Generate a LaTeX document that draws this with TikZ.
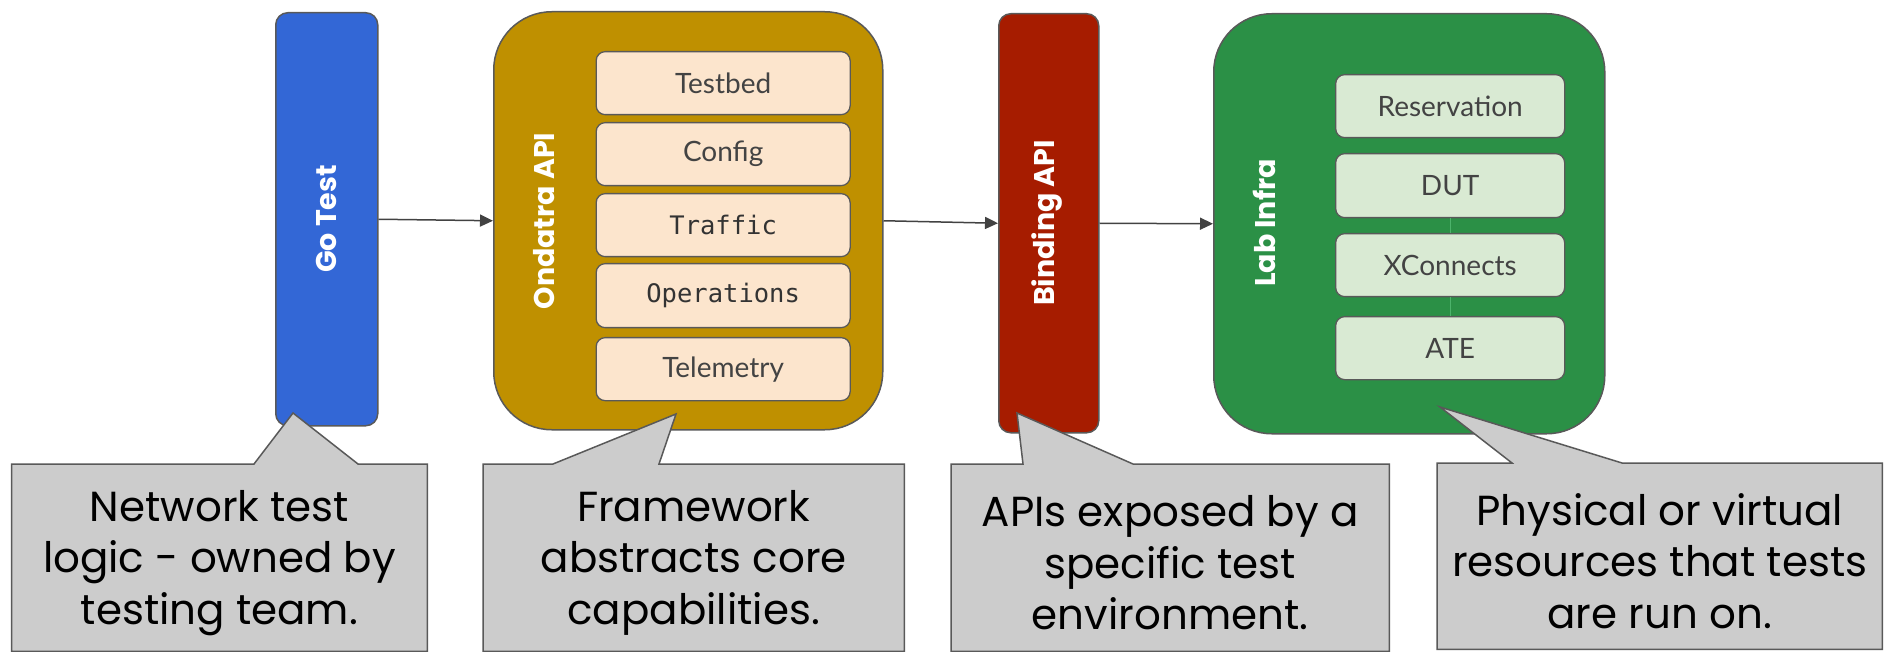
\documentclass[tikz,border=0pt]{standalone}
\usepackage{fontspec}
\setmainfont{Poppins}
\newfontfamily\labfont{Lato}
\newfontfamily\codefont{DejaVu Sans Mono}
\newfontfamily\headfont{Poppins}
\usetikzlibrary{arrows.meta}
\definecolor{gtblue}{HTML}{3367D6}
\definecolor{ongold}{HTML}{BF9000}
\definecolor{bdred}{HTML}{A61C00}
\definecolor{lbgreen}{HTML}{2B9046}
\definecolor{peach}{HTML}{FCE5CD}
\definecolor{mint}{HTML}{D9EAD3}
\definecolor{callgray}{HTML}{CCCCCC}
\definecolor{edgegray}{HTML}{595959}
\definecolor{txtgray}{HTML}{434343}
\definecolor{codegray}{HTML}{333333}
\definecolor{arrgray}{HTML}{424242}
\definecolor{linkgreen}{HTML}{4DB36B}
\tikzset{
  column/.style={draw=edgegray, line width=1.5pt, rounded corners=12pt, inner sep=0pt, anchor=north west},
  panel/.style={draw=edgegray, line width=1.5pt, rounded corners=58pt, inner sep=0pt, anchor=north west},
  item/.style={draw=edgegray, line width=1.3pt, rounded corners=9pt, inner sep=0pt, anchor=north west,
    text=txtgray, font=\labfont\fontsize{28}{30}\selectfont},
  codeitem/.style={item, text=codegray, font=\codefont\fontsize{25.5}{30}\selectfont},
  vlabel/.style={rotate=90, text=white, inner sep=0pt, font=\headfont\bfseries\fontsize{28.5}{30}\selectfont},
  arr/.style={draw=arrgray, line width=1.5pt, -{Triangle[length=13pt,width=12pt]}},
  link/.style={draw=linkgreen, line width=1.2pt},
  cbox/.style={inner sep=0pt, anchor=north west},
  callout/.style={fill=callgray, draw=edgegray, line width=1.5pt, line join=miter},
  ctext/.style={align=center, inner sep=0pt, yshift=-5pt, font=\fontsize{42}{51.5}\selectfont}
}
\begin{document}
\begin{tikzpicture}[x=1pt,y=-1pt]
\useasboundingbox (0,0) rectangle (1885,652);
\fill[white] (0,0) rectangle (1885,652);

% main columns
\node[column, fill=gtblue, minimum width=102pt, minimum height=413pt] (gotest) at (275,12) {};
\node[panel, fill=ongold, minimum width=389pt, minimum height=418pt] (ondatra) at (493,11) {};
\node[column, fill=bdred, minimum width=100pt, minimum height=419pt] (binding) at (998,13) {};
\node[panel, fill=lbgreen, minimum width=391pt, minimum height=420pt] (lab) at (1213,13) {};

% vertical labels
\node[vlabel] (gotestlbl) at (326,219) {Go Test};
\node[vlabel] (ondatralbl) at (544,221) {Ondatra API};
\node[vlabel] (bindinglbl) at (1047,223) {Binding API};
\node[vlabel] (lablbl) at (1264,223) {Lab Infra};

% Ondatra items
\node[item, fill=peach, minimum width=254pt, minimum height=63pt] (testbed) at (595.5,51) {Testbed};
\node[item, fill=peach, minimum width=254pt, minimum height=63pt] (config) at (595.5,122) {Config};
\node[codeitem, fill=peach, minimum width=254pt, minimum height=63pt] (traffic) at (595.5,193) {Traffic};
\node[codeitem, fill=peach, minimum width=254pt, minimum height=64pt] (operations) at (595.5,263) {Operations};
\node[item, fill=peach, minimum width=254pt, minimum height=63pt] (telemetry) at (595.5,337) {Telemetry};

% Lab items
\node[item, fill=mint, minimum width=229pt, minimum height=63pt] (reservation) at (1335,74) {Reservation};
\node[item, fill=mint, minimum width=229pt, minimum height=64pt] (dut) at (1335,153) {DUT};
\node[item, fill=mint, minimum width=229pt, minimum height=63pt] (xconnects) at (1335,233) {XConnects};
\node[item, fill=mint, minimum width=229pt, minimum height=63pt] (ate) at (1335,316) {ATE};
\draw[link] (dut.south) -- (xconnects.north);
\draw[link] (xconnects.south) -- (ate.north);

% arrows
\draw[arr] (gotest.east) -- (ondatra.west);
\draw[arr] (ondatra.east) -- (binding.west);
\draw[arr] (binding.east) -- (lab.west);

% callouts
\node[cbox, minimum width=415.5pt, minimum height=187pt] (c1) at (11.5,464) {};
\draw[callout] (c1.north west) -- (254,464) -- (293,413) -- (358,464) -- (c1.north east)
  -- (c1.south east) -- (c1.south west) -- cycle;
\node[ctext] (t1) at (c1.center) {Network test\\logic - owned by\\testing team.};

\node[cbox, minimum width=421pt, minimum height=187pt] (c2) at (483,464) {};
\draw[callout] (c2.north west) -- (553,464) -- (676,414) -- (659,464) -- (c2.north east)
  -- (c2.south east) -- (c2.south west) -- cycle;
\node[ctext] (t2) at (c2.center) {Framework\\abstracts core\\capabilities.};

\node[cbox, minimum width=438pt, minimum height=187pt] (c3) at (951,464) {};
\draw[callout] (c3.north west) -- (1023,464) -- (1017,413) -- (1133,464) -- (c3.north east)
  -- (c3.south east) -- (c3.south west) -- cycle;
\node[ctext] (t3) at (c3.center) {APIs exposed by a\\specific test\\environment.};

\node[cbox, minimum width=445pt, minimum height=186pt] (c4) at (1437,463) {};
\draw[callout] (c4.north west) -- (1512,463) -- (1440,407) -- (1622,463) -- (c4.north east)
  -- (c4.south east) -- (c4.south west) -- cycle;
\node[ctext] (t4) at (c4.center) {Physical or virtual\\resources that tests\\are run on.};
\end{tikzpicture}
\end{document}
